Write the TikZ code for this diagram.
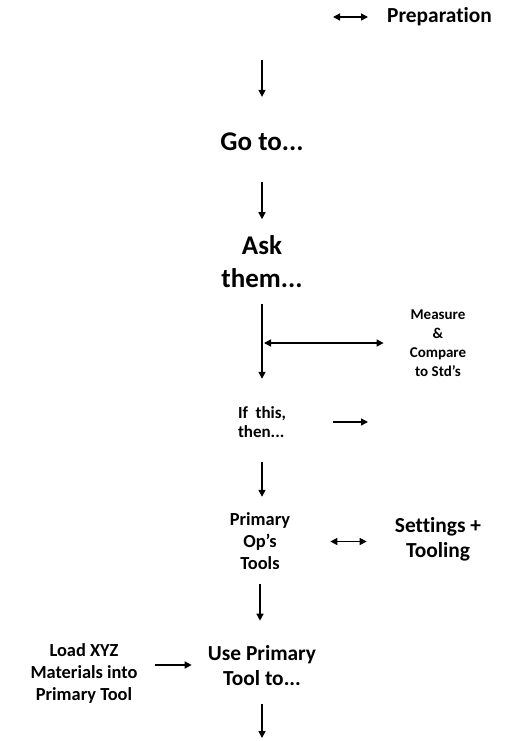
\documentclass[tikz,border=0pt]{standalone}
\usepackage{fontspec}
\setmainfont{Carlito}[Ligatures=NoCommon]
\usetikzlibrary{arrows.meta}

\begin{document}
\begin{tikzpicture}[
    x=1pt, y=-1pt,
    flow/.style={-{Triangle[length=7pt,width=7pt]}, line width=1.4pt},
    dflow/.style={{Triangle[length=7pt,width=7pt]}-{Triangle[length=7pt,width=7pt]}, line width=1.4pt},
    big/.style={inner sep=0pt, align=center, font=\bfseries\fontsize{27}{33}\selectfont},
    mid/.style={inner sep=0pt, align=center, font=\bfseries\fontsize{21.4}{25}\selectfont},
    small/.style={inner sep=0pt, align=center, font=\bfseries\fontsize{18.4}{22}\selectfont},
    tiny/.style={inner sep=0pt, align=center, font=\bfseries\fontsize{15}{19}\selectfont},
]
    \useasboundingbox (0,0) rectangle (505,741);

    \node[mid, anchor=west] (prep) at (387,17) {Preparation};
    \node[big] (goto) at (262,142) {Go to...};
    \node[big] (ask) at (262,261.5) {Ask\\them...};
    \node[tiny] (measure) at (438,343) {Measure\\\&\\Compare\\to Std’s};
    \node[inner sep=0pt, align=left, font=\bfseries\fontsize{17}{19}\selectfont]
        (ifthen) at (262,422.5) {If~~this,\\then...};
    \node[small] (primops) at (260,541.5) {Primary\\Op’s\\Tools};
    \node[mid] (settings) at (438,539.5) {Settings +\\Tooling};
    \node[mid] (useprim) at (262,666) {Use Primary\\Tool to...};
    \node[small] (load) at (84,673) {Load XYZ\\Materials into\\Primary Tool};

    \coordinate (prepL) at (333,17);
    \coordinate (start) at (262,60);
    \coordinate (split) at (264,343);
    \coordinate (ifend) at (368,422);
    \coordinate (finish) at (262,738);

    \draw[dflow, shorten >=19pt] (prepL) -- (prep.west);
    \draw[flow, shorten >=36pt] (start) -- (goto.north);
    \draw[flow, shorten <=31pt, shorten >=16pt] (goto.south) -- (ask.north);
    \draw[flow, shorten <=16pt, shorten >=28pt] (ask.south) -- (ifthen.north);
    \draw[dflow, shorten >=26pt] (split) -- (split -| measure.west);
    \draw[flow, shorten <=47pt] (ifthen.east |- ifend) -- (ifend);
    \draw[flow, shorten <=24pt, shorten >=16pt] (ifthen.south) -- (ifthen.south |- primops.north);
    \draw[dflow, shorten <=40pt, shorten >=28pt] (primops.east) -- (primops.east -| settings.west);
    \draw[flow, shorten <=14pt, shorten >=25pt] (primops.south) -- (primops.south |- useprim.north);
    \draw[flow, shorten <=17pt, shorten >=16pt] ([yshift=8pt]load.east) -- ([yshift=8pt]load.east -| useprim.west);
    \draw[flow, shorten <=18pt] (useprim.south) -- (finish);

\end{tikzpicture}
\end{document}
